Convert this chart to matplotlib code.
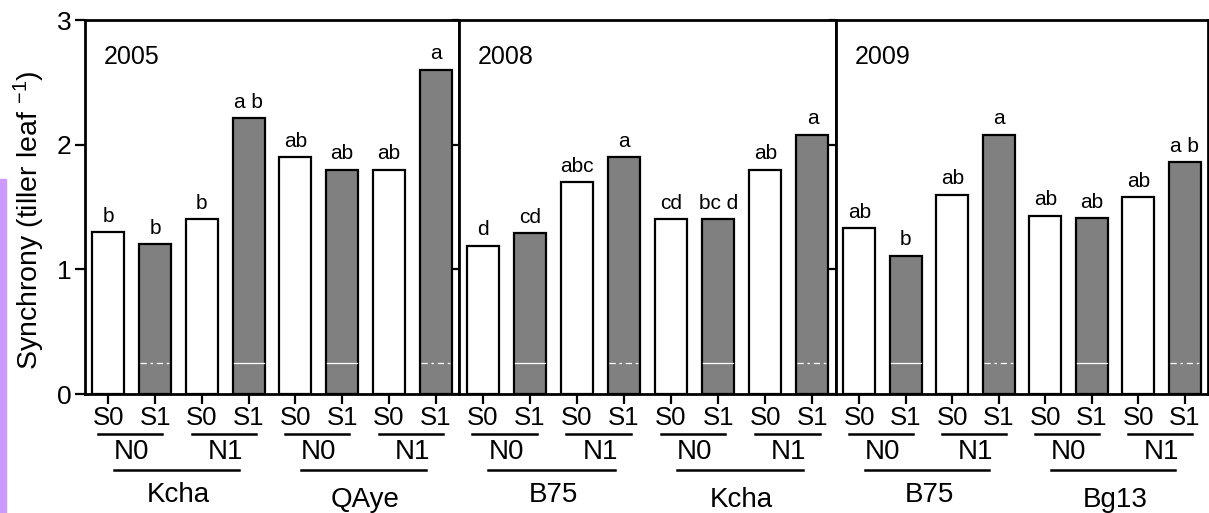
import matplotlib
matplotlib.use("Agg")
import matplotlib.pyplot as plt
from matplotlib.patches import Rectangle
from matplotlib.lines import Line2D

plt.rcParams["font.family"] = ["Liberation Sans", "DejaVu Sans"]
plt.rcParams["mathtext.fontset"] = "custom"
plt.rcParams["mathtext.rm"] = "Liberation Sans"
plt.rcParams["mathtext.it"] = "Liberation Sans:italic"

# data
years = ["2005", "2008", "2009"]
genotypes = [["Kcha", "QAye"], ["B75", "Kcha"], ["B75", "Bg13"]]
n_labels = ["N0", "N1"]
s_labels = ["S0", "S1"]

values_2005 = [1.30, 1.20, 1.40, 2.21, 1.90, 1.80, 1.80, 2.60]
values_2008 = [1.19, 1.29, 1.70, 1.90, 1.40, 1.40, 1.80, 2.08]
values_2009 = [1.33, 1.11, 1.60, 2.08, 1.43, 1.41, 1.58, 1.86]

letters_2005 = ["b", "b", "b", "a b", "ab", "ab", "ab", "a"]
letters_2008 = ["d", "cd", "abc", "a", "cd", "bc d", "ab", "a"]
letters_2009 = ["ab", "b", "ab", "a", "ab", "ab", "ab", "a b"]

values = [values_2005, values_2008, values_2009]
letters = [letters_2005, letters_2008, letters_2009]

# odd white line across the grey bars in the source picture
streak_styles = [["dash", "solid", "solid", "dash"],
                 ["solid", "dash", "solid", "dash"],
                 ["solid", "dash", "solid", "dash"]]

W, H = 1209, 513
fig = plt.figure(figsize=(W / 100, H / 100), dpi=100)

# panel edges in pixels
panel_x = [(85, 459), (459, 836), (836, 1208)]
y_top, y_bot = 20, 394


def ay(px):
    """pixel row (from top) -> axes fraction"""
    return (y_bot - px) / (y_bot - y_top)


fig.patches.append(Rectangle((0, 0), 6 / W, (H - 179) / H, transform=fig.transFigure,
                             color="#CC99FF", zorder=0))

lw = 1.6
for p, (x0, x1) in enumerate(panel_x):
    ax = fig.add_axes([x0 / W, (H - y_bot) / H, (x1 - x0) / W, (y_bot - y_top) / H])
    vals = values[p]
    xs = list(range(len(vals)))
    colors = ["white" if i % 2 == 0 else "#808080" for i in xs]
    ax.bar(xs, vals, width=0.68, color=colors, edgecolor="black", linewidth=lw, zorder=2)

    # white streak at 0.25 in the grey bars
    for k, i in enumerate(xs[1::2]):
        ls = "-" if streak_styles[p][k] == "solid" else (0, (5, 3, 2, 3))
        ax.plot([i - 0.32, i + 0.32], [0.25, 0.25], color="white", lw=0.9, ls=ls, zorder=3)

    for i, (v, t) in enumerate(zip(vals, letters[p])):
        ax.annotate(t, (i, v), xytext=(0, 7.5), textcoords="offset points",
                    ha="center", va="baseline", fontsize=15)

    ax.set_xlim(-0.5, 7.5)
    ax.set_ylim(0, 3)
    ax.set_yticks([0, 1, 2, 3])
    for s in ax.spines.values():
        s.set_linewidth(2)
    if p == 0:
        ax.tick_params(axis="y", direction="out", length=7.5, width=1.6, labelsize=19, pad=2)
    else:
        ax.tick_params(axis="y", direction="out", length=5, width=1.6, labelleft=False)
    ax.set_xticks(xs)
    ax.set_xticklabels(s_labels * 4)
    ax.tick_params(axis="x", direction="out", length=7.5, width=1.6, labelsize=18.5, pad=1)

    ax.text(0.05, 0.9, years[p], transform=ax.transAxes, fontsize=18, va="center", ha="left")

    tr = ax.get_xaxis_transform()
    for g in range(2):
        base = g * 4
        for n in range(2):
            c = base + n * 2
            ax.add_line(Line2D([c - 0.22, c + 1.15], [ay(434), ay(434)], transform=tr,
                               color="black", lw=1.8, clip_on=False))
            ax.text(c + 0.5, ay(452), n_labels[n], transform=tr, ha="center", va="center",
                    fontsize=20)
        ax.add_line(Line2D([base + 0.12, base + 2.8], [ay(470), ay(470)], transform=tr,
                           color="black", lw=1.8, clip_on=False))
        ax.text(base + 1.5, ay(482 + 5 * g), genotypes[p][g], transform=tr, ha="center",
                va="top", fontsize=20)

fig.text(29 / W, 1 - 220 / H, r"Synchrony (tiller leaf $^{-1}$)", rotation=90,
         ha="center", va="center", fontsize=20.5)

fig.savefig("out.png", dpi=100)
